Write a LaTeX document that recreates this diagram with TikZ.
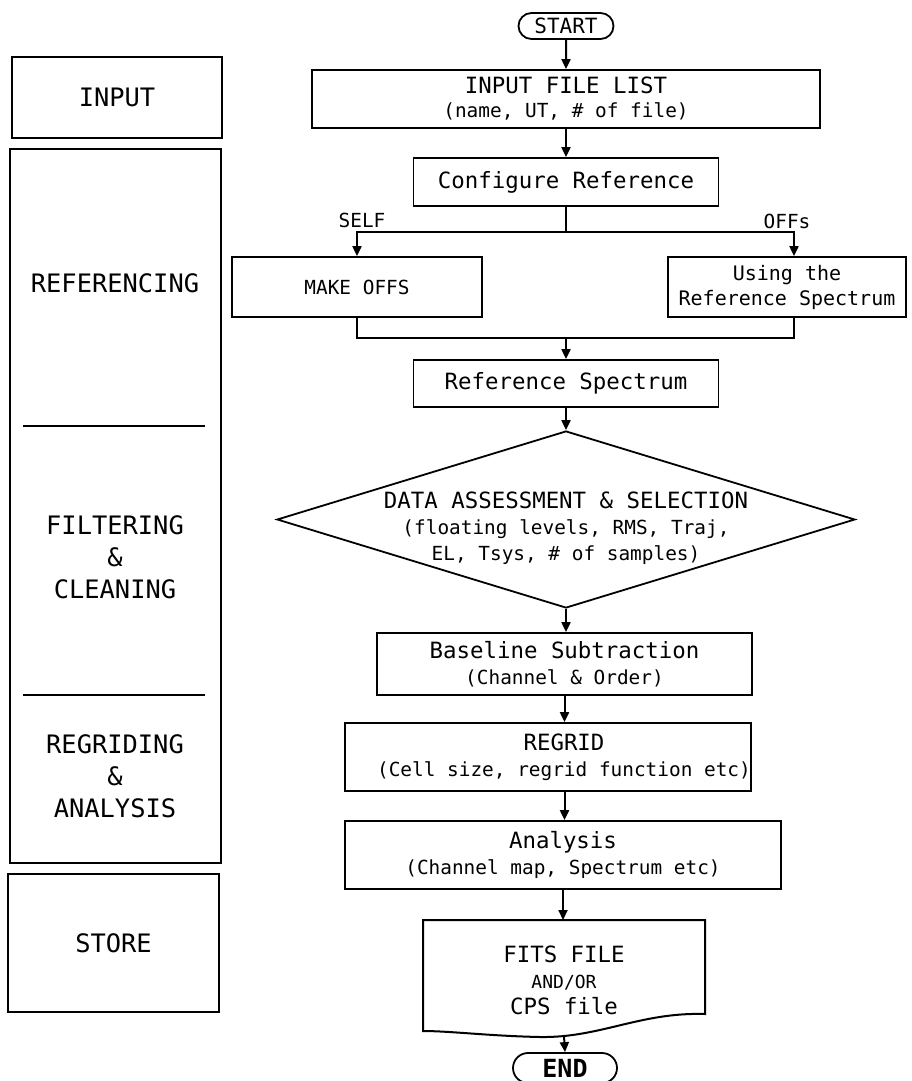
\documentclass[tikz,border=0pt]{standalone}
\usepackage{fontspec}
\setmainfont{DejaVu Sans Mono}
\usetikzlibrary{positioning,shapes.geometric,shapes.misc,arrows.meta}

\newcommand{\bigtxt}{\fontsize{22.4}{26}\selectfont}
\newcommand{\smalltxt}{\fontsize{19.4}{25}\selectfont}
\newcommand{\sidetxt}{\fontsize{25.4}{32}\selectfont}

\tikzset{
    % boxes of the flow
    process/.style={draw, rectangle, line width=1.8pt, inner sep=0pt, align=center, font=\bigtxt},
    terminal/.style={draw, rounded rectangle, line width=1.8pt, inner sep=0pt, font=\bigtxt},
    decision/.style={draw, diamond, aspect=3.27, line width=1.8pt, inner sep=0pt},
    % boxes of the stage column
    stagebox/.style={draw, rectangle, line width=1.4pt, inner sep=0pt, align=center, font=\sidetxt},
    stagelabel/.style={align=center, font=\sidetxt},
    % connectors
    flow/.style={line width=2pt, -{Triangle[length=10pt,width=9pt]}},
    link/.style={line width=2pt}
}

\begin{document}
\begin{tikzpicture}[x=1pt, y=-1pt]
    \useasboundingbox (0,0) rectangle (912,1081);

    % --- 1. stage column ---
    \node[stagebox, minimum width=210pt, minimum height=81pt] (input) at (117,97.5) {INPUT};
    \node[stagebox, minimum width=211pt, minimum height=714pt] (stages) at (115.5,506) {};
    \node[stagebox, minimum width=211pt, minimum height=138pt] (store) at (113.5,943) {STORE};

    \node[stagelabel] (referencing) at (115,283) {REFERENCING};
    \node[stagelabel] (filtering) at (115,557) {FILTERING\\\&\\CLEANING};
    \node[stagelabel] (regriding) at (115,776) {REGRIDING\\\&\\ANALYSIS};

    \draw[link] (23,426) -- (205,426);
    \draw[link] (23,695) -- (205,695);

    % --- 2. flow column ---
    \node[terminal, minimum width=95pt, minimum height=26pt, font=\fontsize{21}{24}\selectfont] (start) at (566,26) {START};
    \node[process, minimum width=508pt, minimum height=58pt] (filelist) at (566,99)
        {INPUT FILE LIST\\[-2pt]{\smalltxt (name, UT, \# of file)}};
    \node[process, minimum width=305pt, minimum height=48pt] (config) at (566,182) {Configure Reference};

    \node[process, minimum width=250pt, minimum height=60pt, font=\smalltxt] (makeoffs) at (357,287) {MAKE OFFS};
    \node[process, minimum width=238pt, minimum height=60pt, font=\fontsize{20}{25}\selectfont] (using) at (787,287)
        {Using the\\Reference Spectrum};
    \node[font=\smalltxt] (selflbl) at (362,220) {SELF};
    \node[font=\smalltxt] (offslbl) at (787,221) {OFFs};

    \node[process, minimum width=305pt, minimum height=47pt] (refspec) at (566,383.5) {Reference Spectrum};

    % the diamond and its text
    \node[decision, minimum width=578pt, minimum height=177pt] (check) at (566,519.5) {};
    \node[align=center, font=\bigtxt] (checktext) at (566,528)
        {DATA ASSESSMENT \& SELECTION\\{\smalltxt (floating levels, RMS, Traj,}\\{\smalltxt EL, Tsys, \# of samples)}};

    \node[process, minimum width=375pt, minimum height=62pt] (baseline) at (564.5,664)
        {Baseline Subtraction\\{\smalltxt (Channel \& Order)}};
    \node[process, minimum width=406pt, minimum height=68pt] (regrid) at (548,757)
        {\hspace*{32pt}REGRID\\{\smalltxt\hspace*{32pt}(Cell size, regrid function etc)}};
    \node[process, minimum width=436pt, minimum height=68pt] (analysis) at (563,855)
        {Analysis\\{\smalltxt (Channel map, Spectrum etc)}};

    % document shape of the output
    \draw[link] (423,1031) -- (423,920) -- (705,920) -- (705,1014)
        .. controls (640,1012) and (600,1038) .. (540,1037)
        .. controls (490,1036) and (450,1031) .. (423,1031) -- cycle;
    \coordinate (fitstop) at (564,920);
    \coordinate (fitsbottom) at (564,1036);
    \node[align=center, font=\bigtxt] (fits) at (564,980)
        {FITS FILE\\{\fontsize{18}{24}\selectfont AND/OR}\\CPS file};

    \node[terminal, minimum width=104pt, minimum height=30pt, font=\fontsize{25}{28}\selectfont\bfseries] (stop) at (565,1068) {END};

    % --- 3. connectors ---
    \draw[flow] (start) -- (filelist);
    \draw[flow] (filelist) -- (config);
    \coordinate[below=25pt of config.south] (split);
    \draw[link] (config.south) -- (split);
    \draw[flow] (split) -| (makeoffs.north);
    \draw[flow] (split) -| ([xshift=7pt]using.north);
    \coordinate[above=21pt of refspec.north] (merge);
    \draw[link] (makeoffs.south) |- (merge);
    \draw[link] ([xshift=7pt]using.south) |- (merge);
    \draw[flow] (merge) -- (refspec.north);
    \draw[flow] (refspec) -- (check);
    \draw[flow] (check) -- (check |- baseline.north);
    \draw[flow] (baseline.south) -- (baseline.south |- regrid.north);
    \draw[flow] (baseline.south |- regrid.south) -- (baseline.south |- analysis.north);
    \draw[flow] (analysis.south) -- (analysis.south |- fitstop);
    \draw[flow] (fitsbottom) -- (stop.north);
\end{tikzpicture}
\end{document}
